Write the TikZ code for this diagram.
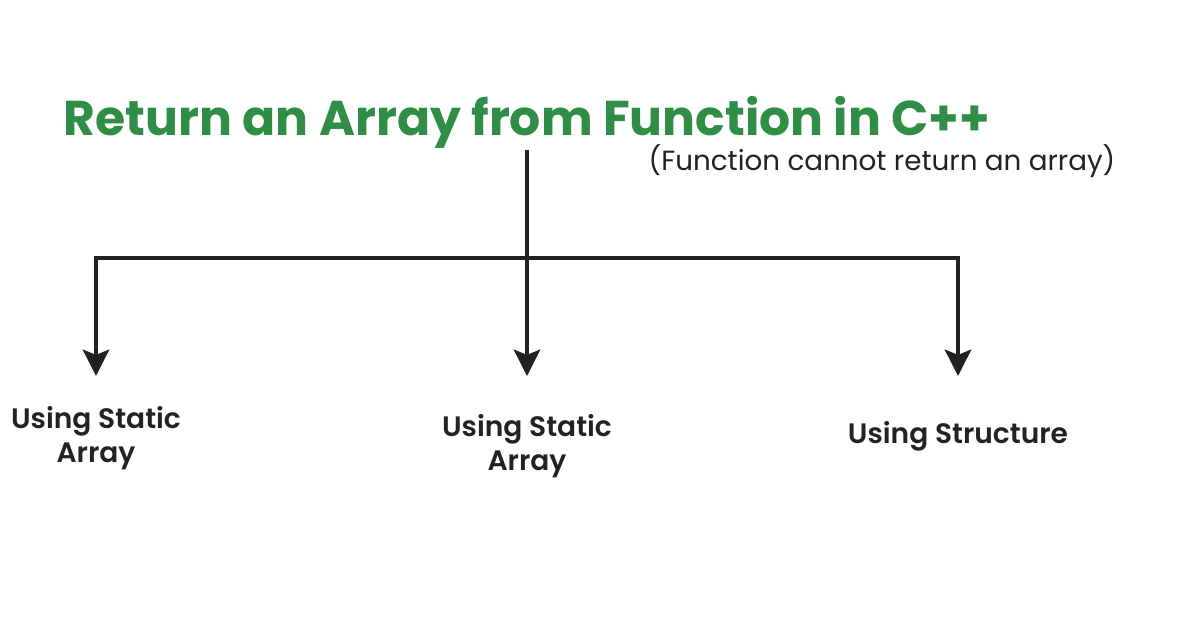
\documentclass[tikz,border=0pt]{standalone}
\usepackage{fontspec}
\setmainfont{Poppins}
\newfontfamily\semibold{Poppins SemiBold}
\usetikzlibrary{arrows.meta,calc,positioning}
\definecolor{gfg_green}{RGB}{47,141,70}
\definecolor{ink}{RGB}{34,34,34}

\begin{document}
\begin{tikzpicture}[x=0.02cm,y=-0.02cm,>={Stealth[width=15pt,length=15pt,inset=3pt]},
    line/.style={line width=2.3pt,draw=ink},
    way/.style={font=\semibold\fontsize{16}{19.4}\selectfont,text=ink,align=center,inner sep=0pt}]
        \useasboundingbox[fill=white] (0,0) rectangle (1196,628);

        \node[anchor=base,inner sep=0pt,text=gfg_green,font=\bfseries\fontsize{27.8}{33}\selectfont] (title) at (527,136) {Return an Array from Function in C++};
        \node[anchor=base,inner sep=0pt,text=ink,font=\fontsize{15.8}{19}\selectfont] (subtitle) at (882,171) {(Function cannot return an array)};

        \coordinate (stem_top) at (527,150);
        \coordinate (junction) at (527,258);
        \coordinate (tip_left) at (96,376);
        \coordinate (tip_mid) at (527,376);
        \coordinate (tip_right) at (958,376);

        \node[way] (static_left) at (96,438) {Using Static\\Array};
        \node[way] (static_mid) at (527,446) {Using Static\\Array};
        \node[way] (structure) at (958,436) {Using Structure};

        \draw[line] (title.south |- stem_top) -- (junction);
        \draw[line,->] (junction) -| (tip_left);
        \draw[line,->] (junction) -- (tip_mid);
        \draw[line,->] (junction) -| (tip_right);
    \end{tikzpicture}
\end{document}
